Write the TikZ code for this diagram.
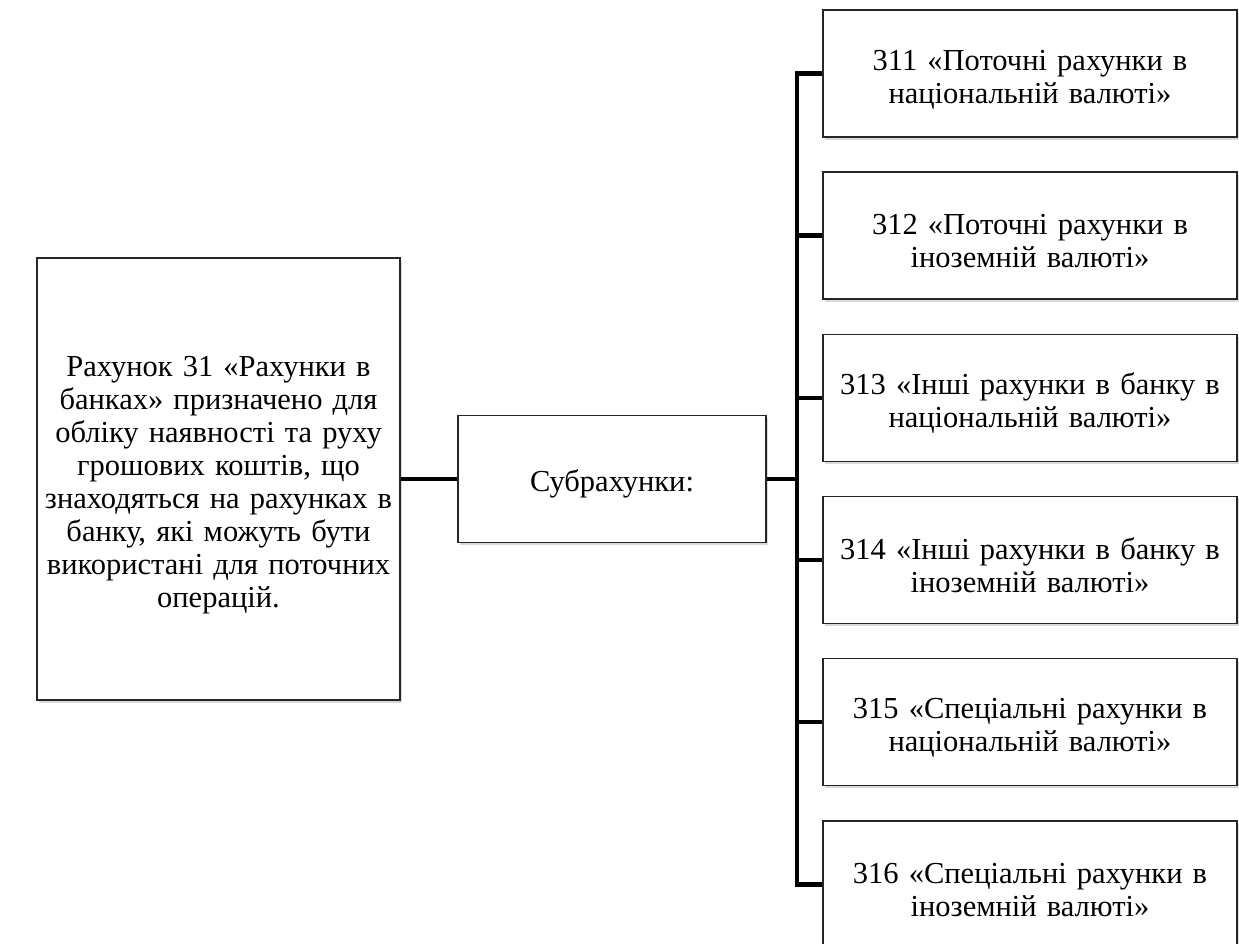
\documentclass[tikz,border=0pt]{standalone}
\usepackage{fontspec}
\setmainfont{Liberation Serif}
\usetikzlibrary{shadows}
\begin{document}
\begin{tikzpicture}[x=1pt,y=-1pt,
  box/.style={draw=black!85,line width=1.4pt,fill=white,rectangle,align=center,
    inner sep=1pt,font=\fontsize{30.5}{33}\selectfont,
    execute at begin node={\rule{0pt}{32pt}},
    drop shadow={shadow xshift=2pt,shadow yshift=-2.5pt,opacity=0.25,fill=black!60}},
  sub/.style={box,minimum width=414pt,minimum height=127pt,text width=410pt},
  bus/.style={line width=4.8pt,black}]
\useasboundingbox (0,0) rectangle (1239,943);
\node[box,minimum width=363pt,minimum height=442pt,text width=361pt] (main) at (218.5,479)
  {Рахунок 31 «Рахунки в\\банках» призначено для\\обліку наявності та руху\\грошових коштів, що\\знаходяться на рахунках в\\банку, які можуть бути\\використані для поточних\\операцій.};
\node[box,minimum width=308pt,minimum height=127pt,text width=300pt] (mid) at (612,479) {Субрахунки:};
\node[sub] (r1) at (1030,73.5) {311 «Поточні рахунки в\\національній валюті»};
\node[sub] (r2) at (1030,235.5) {312 «Поточні рахунки в\\іноземній валюті»};
\node[sub] (r3) at (1030,398) {313 «Інші рахунки в банку в\\національній валюті»};
\node[sub] (r4) at (1030,560) {314 «Інші рахунки в банку в\\іноземній валюті»};
\node[sub] (r5) at (1030,722) {315 «Спеціальні рахунки в\\національній валюті»};
\node[sub] (r6) at (1030,884.5) {316 «Спеціальні рахунки в\\іноземній валюті»};
\coordinate (bt) at (797,73.5);
\coordinate (bb) at (797,884.5);
\draw[bus] (main.east) -- (mid.west);
\draw[bus] (mid.east) -- (mid.east -| bt);
\draw[bus,line join=miter] (r1.west) -- (bt) -- (bb) -- (r6.west);
\draw[bus] (r2.west) -- (r2.west -| bt);
\draw[bus] (r3.west) -- (r3.west -| bt);
\draw[bus] (r4.west) -- (r4.west -| bt);
\draw[bus] (r5.west) -- (r5.west -| bt);
\end{tikzpicture}
\end{document}
